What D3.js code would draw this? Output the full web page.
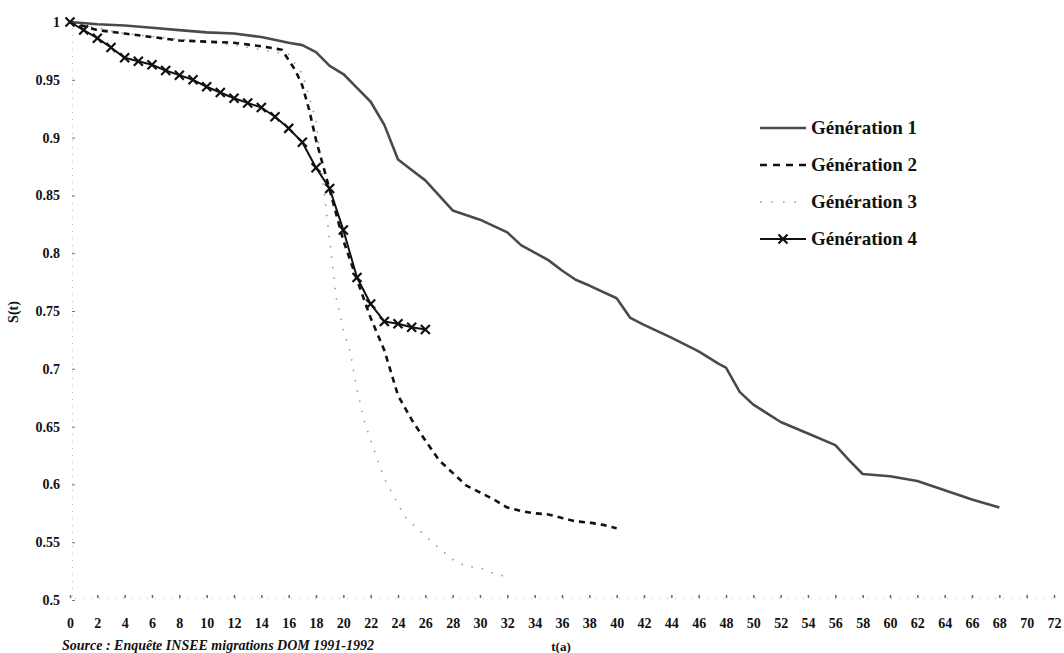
<!DOCTYPE html>
<html lang="fr">
<head>
<meta charset="UTF-8">
<title>Survie par génération</title>
<style>
  body { margin: 0; background: #fff; }
  svg text { font-family: "Liberation Serif", "Times New Roman", serif; fill: #111; }
  .tick text { font-size: 14px; font-weight: bold; }
  .legend text { font-size: 19px; font-weight: bold; }
</style>
</head>
<body>
<div id="chart"></div>
<script src="https://d3js.org/d3.v7.min.js"></script>
<script>
// Génération 1
const g1T = [0, 2, 4, 6, 8, 10, 12, 14, 16, 17, 18, 19, 20, 21, 22, 23, 24, 25, 26, 27, 28, 30, 32, 33, 35, 36, 37, 38, 40, 41, 42, 44, 46, 47.5, 48, 49, 50, 52, 54, 56, 57, 58, 60, 62, 64, 66, 68];
const g1S = [1, 0.998, 0.997, 0.995, 0.993, 0.991, 0.99, 0.987, 0.982, 0.98, 0.974, 0.962, 0.955, 0.943, 0.931, 0.911, 0.881, 0.872, 0.863, 0.85, 0.837, 0.829, 0.818, 0.807, 0.794, 0.785, 0.777, 0.772, 0.761, 0.744, 0.738, 0.727, 0.715, 0.704, 0.701, 0.68, 0.669, 0.654, 0.644, 0.634, 0.621, 0.609, 0.607, 0.603, 0.595, 0.587, 0.58];

// Génération 2
const g2T = [0, 2, 4, 6, 8, 10, 12, 14, 15.5, 16.5, 17, 17.5, 18, 19, 20, 21, 22, 23, 24, 25, 26, 27, 28, 29, 30, 31, 32, 33, 34, 35, 36, 37, 38, 39, 40];
const g2S = [1, 0.993, 0.99, 0.987, 0.984, 0.983, 0.982, 0.979, 0.976, 0.958, 0.945, 0.924, 0.898, 0.855, 0.811, 0.777, 0.744, 0.716, 0.677, 0.656, 0.638, 0.621, 0.61, 0.599, 0.593, 0.587, 0.58, 0.577, 0.575, 0.574, 0.571, 0.568, 0.567, 0.565, 0.562];

// Génération 3
const g3T = [0, 4, 8, 12, 16, 17, 18, 18.5, 19, 19.5, 20, 20.5, 21, 21.5, 22, 23, 24.5, 26.3, 27, 28, 29, 30, 31, 32];
const g3S = [1, 0.99, 0.985, 0.98, 0.972, 0.955, 0.915, 0.863, 0.811, 0.76, 0.734, 0.715, 0.682, 0.656, 0.638, 0.605, 0.572, 0.552, 0.545, 0.535, 0.529, 0.528, 0.523, 0.52];

// Génération 4
const g4T = [0, 1, 2, 3, 4, 5, 6, 7, 8, 9, 10, 11, 12, 13, 14, 15, 16, 17, 18, 19, 20, 21, 22, 23, 24, 25, 26];
const g4S = [1, 0.993, 0.986, 0.978, 0.969, 0.966, 0.963, 0.958, 0.954, 0.95, 0.944, 0.939, 0.934, 0.93, 0.926, 0.918, 0.908, 0.896, 0.874, 0.856, 0.82, 0.779, 0.756, 0.741, 0.739, 0.736, 0.734];

const legendLabels = ['Génération 1', 'Génération 2', 'Génération 3', 'Génération 4'];
const xTicks = d3.range(0, 73, 2);
const yTicks = [0.5, 0.55, 0.6, 0.65, 0.7, 0.75, 0.8, 0.85, 0.9, 0.95, 1];

const W = 1064, H = 653;
const margin = { top: 22, left: 70 };
const width = 984, height = 578;

const svg = d3.select('#chart').append('svg')
    .attr('width', W).attr('height', H);

const x = d3.scaleLinear().domain([0, 72]).range([margin.left, margin.left + width]);
const y = d3.scaleLinear().domain([0.5, 1]).range([margin.top + height, margin.top]);

// axes (faint dotted, like the scan)
const yAxis = svg.append('g')
    .attr('transform', `translate(${x(0) + 2},0)`)
    .call(d3.axisLeft(y).tickValues(yTicks).tickSize(-3).tickPadding(12)
        .tickFormat(d => String(+d.toFixed(2))));
yAxis.select('.domain').attr('stroke', '#bbb').attr('stroke-dasharray', '1,6');
yAxis.selectAll('.tick line').attr('stroke', '#777');

const xAxis = svg.append('g')
    .attr('transform', `translate(0,${y(0.5) - 2})`)
    .call(d3.axisBottom(x).tickValues(xTicks).tickSize(-3).tickPadding(23));
xAxis.select('.domain').attr('stroke', '#bbb').attr('stroke-dasharray', '1,7');
xAxis.selectAll('.tick line').attr('stroke', '#666').attr('stroke-width', 1.5);
xAxis.selectAll('.tick text').attr('dy', '0.5em');

// axis titles
svg.append('text')
    .attr('transform', 'translate(18,312) rotate(-90)')
    .attr('text-anchor', 'middle')
    .style('font-size', '14px').style('font-weight', 'bold')
    .text('S(t)');

svg.append('text')
    .attr('x', 561).attr('y', 651)
    .attr('text-anchor', 'middle')
    .style('font-size', '13px').style('font-weight', 'bold')
    .text('t(a)');

svg.append('text')
    .attr('x', 62).attr('y', 650)
    .style('font-size', '14px').style('font-weight', 'bold').style('font-style', 'italic')
    .text('Source : Enquête INSEE migrations DOM 1991-1992');

// series
const line = d3.line().x(d => x(d[0])).y(d => y(d[1]));
const zip = (t, s) => t.map((v, i) => [v, s[i]]);

const styles = [
    { stroke: '#4a4a4a', w: 2.6, dash: null },
    { stroke: '#111', w: 2.6, dash: '6,5' },
    { stroke: '#999', w: 1.6, dash: '1.5,9' },
    { stroke: '#111', w: 2, dash: null }
];
const series = [zip(g1T, g1S), zip(g2T, g2S), zip(g3T, g3S), zip(g4T, g4S)];

[2, 1, 0, 3].forEach(i => {
    svg.append('path')
        .datum(series[i])
        .attr('fill', 'none')
        .attr('stroke', styles[i].stroke)
        .attr('stroke-width', styles[i].w)
        .attr('stroke-dasharray', styles[i].dash)
        .attr('stroke-linejoin', 'round')
        .attr('d', line);
});

// X markers on Génération 4
const xMark = (cx, cy, r) => `M${cx - r},${cy - r}L${cx + r},${cy + r}M${cx - r},${cy + r}L${cx + r},${cy - r}`;
svg.append('g').selectAll('path')
    .data(series[3])
    .join('path')
    .attr('d', d => xMark(x(d[0]), y(d[1]), 4.5))
    .attr('stroke', '#111').attr('stroke-width', 2.2);

// legend
const legend = svg.append('g').attr('class', 'legend');
legendLabels.forEach((lab, i) => {
    const ly = 128 + i * 37;
    legend.append('line')
        .attr('x1', 760).attr('x2', 806).attr('y1', ly).attr('y2', ly)
        .attr('stroke', styles[i].stroke)
        .attr('stroke-width', styles[i].w)
        .attr('stroke-dasharray', i === 1 ? '7,6' : i === 2 ? '1.5,10' : null);
    if (i === 3) {
        legend.append('path').attr('d', xMark(783, ly, 4.5))
            .attr('stroke', '#111').attr('stroke-width', 2.2);
    }
    legend.append('text')
        .attr('x', 811).attr('y', ly + 6)
        .text(lab);
});
</script>
</body>
</html>
